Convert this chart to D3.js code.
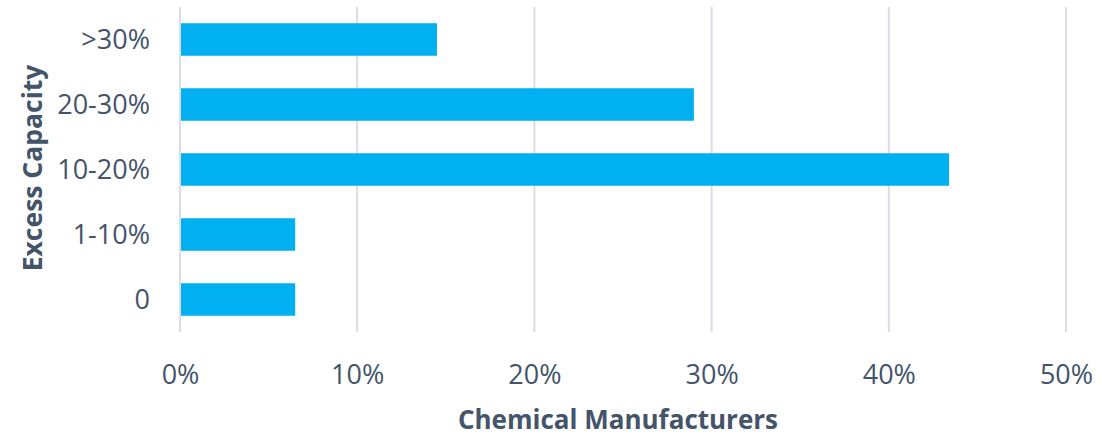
<!DOCTYPE html>
<html><head><meta charset="utf-8">
<script src="https://cdn.jsdelivr.net/npm/d3@7"></script>
<style>body{margin:0;background:#fff}svg{display:block}</style>
</head><body>
<script>
const categories = ["0", "1-10%", "10-20%", "20-30%", ">30%"];
const values = [6.5, 6.5, 43.4, 29.0, 14.5];
const xTicks = [0, 10, 20, 30, 40, 50];
const xTitle = "Chemical Manufacturers";
const yTitle = "Excess Capacity";

const W = 1102, H = 439;
const m = {left: 180, right: 36, top: 7, bottom: 107};
const textCol = "#44546A";
const font = "'Open Sans', sans-serif";

const svg = d3.select("body").append("svg").attr("width", W).attr("height", H);
const x = d3.scaleLinear().domain([0, 50]).range([m.left, m.left + 886]);
const y = d3.scaleBand().domain(categories.slice().reverse()).range([m.top, H - m.bottom]).paddingInner(0.5).paddingOuter(0.25);

// gridlines
svg.append("g").selectAll("line").data(xTicks).join("line")
  .attr("x1", d => x(d)).attr("x2", d => x(d))
  .attr("y1", m.top).attr("y2", H - m.bottom)
  .attr("stroke", "#D9DEE5").attr("stroke-width", 2);

// bars
svg.append("g").selectAll("rect").data(categories).join("rect")
  .attr("x", x(0) + 1)
  .attr("y", d => y(d))
  .attr("width", (d, i) => x(values[i]) - x(0) - 1)
  .attr("height", y.bandwidth())
  .attr("fill", "#00B0F0");

// x axis
const xAxis = d3.axisBottom(x).tickValues(xTicks).tickFormat(d => d + "%").tickSize(0).tickPadding(0);
const gx = svg.append("g").attr("transform", `translate(0,${H - m.bottom})`).call(xAxis);
gx.select(".domain").remove();
gx.selectAll("text").attr("dy", null).attr("y", 52).attr("font-family", font).attr("font-size", 27).attr("fill", textCol);

// y axis
const yAxis = d3.axisLeft(y).tickSize(0).tickPadding(0);
const gy = svg.append("g").attr("transform", `translate(150,0)`).call(yAxis);
gy.select(".domain").remove();
gy.selectAll("text").attr("x", 0).attr("dy", "0.36em").attr("font-family", font).attr("font-size", 27).attr("fill", textCol);

// titles
svg.append("text").attr("x", 618).attr("y", 429).attr("text-anchor", "middle")
  .attr("font-family", font).attr("font-weight", "bold").attr("font-size", 26).attr("fill", textCol).text(xTitle);
svg.append("text").attr("transform", "translate(42,168) rotate(-90)").attr("text-anchor", "middle")
  .attr("font-family", font).attr("font-weight", "bold").attr("font-size", 26.5).attr("fill", textCol).text(yTitle);
</script>
</body></html>
